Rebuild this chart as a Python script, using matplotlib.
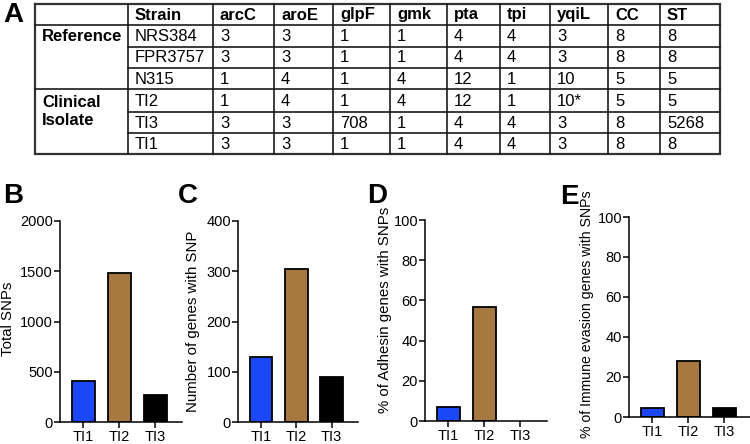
import matplotlib
matplotlib.use("Agg")
import matplotlib.pyplot as plt

plt.rcParams['font.family'] = ['Liberation Sans', 'DejaVu Sans']

# ---------------- data ----------------
columns = ["Strain", "arcC", "aroE", "glpF", "gmk", "pta", "tpi", "yqiL", "CC", "ST"]
groups = ["Reference", "Clinical\nIsolate"]
group_rows = [0, 3]
group_spans = [1, 2]
strains = ["NRS384", "FPR3757", "N315", "TI2", "TI3", "TI1"]
arcC = ["3", "3", "1", "1", "3", "3"]
aroE = ["3", "3", "4", "4", "3", "3"]
glpF = ["1", "1", "1", "1", "708", "1"]
gmk = ["1", "1", "4", "4", "1", "1"]
pta = ["4", "4", "12", "12", "4", "4"]
tpi = ["4", "4", "1", "1", "4", "4"]
yqiL = ["3", "3", "10", "10*", "3", "3"]
CC = ["8", "8", "5", "5", "8", "8"]
ST = ["8", "8", "5", "5", "5268", "8"]

isolates = ["TI1", "TI2", "TI3"]
total_snps = [407, 1487, 268]
genes_with_snp = [129, 305, 89]
adhesin_pct = [6.8, 56.6, 0.0]
immune_pct = [4.5, 27.8, 4.5]
bar_colors = ["#1B48F7", "#A87841", "#000000"]

W, H = 750, 444
fig = plt.figure(figsize=(W / 100, H / 100), dpi=100)

# ---------------- table (panel A) ----------------
ax = fig.add_axes([0, 0, 1, 1])
ax.set_xlim(0, W)
ax.set_ylim(H, 0)
ax.axis('off')

col_x = [35, 128, 213, 274, 333, 390, 447, 500, 550, 608, 660, 720]
row_y = [4, 25, 47, 68, 89, 112, 133, 154]
lc = '#1a1a1a'
lw = 1.2
ax.plot([col_x[0], col_x[-1], col_x[-1], col_x[0], col_x[0]],
        [row_y[0], row_y[0], row_y[-1], row_y[-1], row_y[0]], color='#333333', lw=1.6,
        solid_joinstyle='miter')
for x in col_x[1:-1]:
    ax.plot([x, x], [row_y[0], row_y[-1]], color=lc, lw=lw)
for i, y in enumerate(row_y[1:-1], start=1):
    x0 = col_x[0] if i in (1, 4) else col_x[1]
    ax.plot([x0, col_x[-1]], [y, y], color=lc, lw=lw)

pad = 7
fs = 12
for j, c in enumerate(columns):
    ax.text(col_x[j + 1] + pad, (row_y[0] + row_y[1]) / 2 + 0.5, c, fontsize=fs,
            fontweight='bold', va='center', ha='left')
for g, r, span in zip(groups, group_rows, group_spans):
    yc = (row_y[r + 1] + row_y[r + 1 + span]) / 2 + 0.5
    ax.text(col_x[0] + pad, yc, g, fontsize=fs, fontweight='bold', va='center',
            ha='left', linespacing=1.3)
table_cols = [strains, arcC, aroE, glpF, gmk, pta, tpi, yqiL, CC, ST]
for j, vals in enumerate(table_cols):
    for i, v in enumerate(vals):
        ax.text(col_x[j + 1] + pad, (row_y[i + 1] + row_y[i + 2]) / 2 + 0.5, v,
                fontsize=fs, va='center', ha='left')

letter_font = ['Liberation Sans Narrow', 'Liberation Sans', 'DejaVu Sans']
for lab, x, y in [("A", 3, 15), ("B", 3, 196), ("C", 178, 196), ("D", 367, 196), ("E", 560, 197)]:
    ax.text(x, y, lab, fontsize=20, fontweight='bold', family=letter_font,
            va='center', ha='left')

# ---------------- bar panels ----------------
panels = [
    (total_snps, (60, 182, 221, 422), 2000, 500, "Total SNPs", 15, 319, 10.8),
    (genes_with_snp, (238, 358, 221, 422), 400, 100, "Number of genes with SNP", 200, 321, 10.8),
    (adhesin_pct, (425, 547, 220, 421), 100, 20, "% of Adhesin genes with SNPs", 392, 310, 10.8),
    (immune_pct, (629, 751, 217, 417), 100, 20, "% of Immune evasion genes with SNPs", 594, 314, 10.2),
]
for vals, (l, r, t, b), ymax, step, ylabel, ylx, yly, yfs in panels:
    a = fig.add_axes([l / W, 1 - b / H, (r - l) / W, (b - t) / H])
    a.bar(range(len(isolates)), vals, width=0.64, color=bar_colors,
          edgecolor='black', linewidth=[1.3 if v > 0 else 0 for v in vals])
    a.set_xlim(-0.65, 2.75)
    a.set_ylim(0, ymax)
    a.set_yticks(list(range(0, ymax + 1, step)))
    a.set_xticks(range(len(isolates)))
    a.set_xticklabels(isolates, fontsize=10.5)
    a.tick_params(axis='y', labelsize=10.5, length=4, width=1.1, pad=1)
    a.tick_params(axis='x', length=4, width=1.1, pad=2)
    for s in ('top', 'right'):
        a.spines[s].set_visible(False)
    for s in ('left', 'bottom'):
        a.spines[s].set_linewidth(1.1)
    a.set_ylabel(ylabel, fontsize=yfs)
    a.yaxis.set_label_coords((ylx - l) / (r - l), (b - yly) / (b - t))
    a.patch.set_alpha(0)

fig.savefig("out.png", dpi=100)
